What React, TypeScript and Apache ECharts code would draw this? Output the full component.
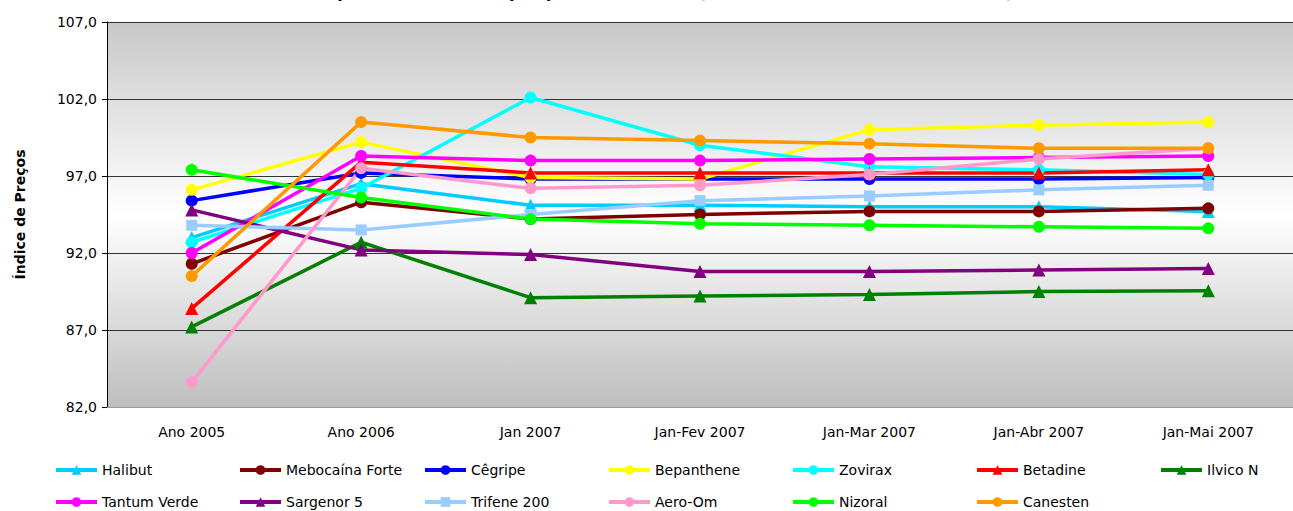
import React, { useEffect, useRef } from "react";
import * as echarts from "echarts";

const categories = ["Ano 2005", "Ano 2006", "Jan 2007", "Jan-Fev 2007", "Jan-Mar 2007", "Jan-Abr 2007", "Jan-Mai 2007"];

const halibut = [93.0, 96.5, 95.1, 95.1, 95.0, 95.0, 94.7];
const mebocaina = [91.3, 95.3, 94.2, 94.5, 94.7, 94.7, 94.9];
const cegripe = [95.4, 97.2, 96.8, 96.8, 96.8, 96.8, 96.9];
const bepanthene = [96.1, 99.2, 96.9, 96.8, 100.0, 100.3, 100.5];
const zovirax = [92.7, 96.2, 102.1, 99.0, 97.6, 97.4, 97.1];
const betadine = [88.4, 97.9, 97.2, 97.2, 97.2, 97.2, 97.4];
const ilvico = [87.2, 92.7, 89.1, 89.2, 89.3, 89.5, 89.55];
const tantum = [92.0, 98.3, 98.0, 98.0, 98.1, 98.2, 98.3];
const sargenor = [94.8, 92.2, 91.9, 90.8, 90.8, 90.9, 91.0];
const trifene = [93.8, 93.5, 94.5, 95.4, 95.7, 96.1, 96.4];
const aeroOm = [83.6, 97.5, 96.2, 96.4, 97.1, 98.1, 98.8];
const nizoral = [97.4, 95.6, 94.2, 93.9, 93.8, 93.7, 93.6];
const canesten = [90.5, 100.5, 99.5, 99.3, 99.1, 98.8, 98.8];

const yTicks = { min: 82, max: 107, interval: 5 };

const seriesDefs = [
  { name: "Halibut", data: halibut, color: "#00CCFF", symbol: "triangle" },
  { name: "Mebocaína Forte", data: mebocaina, color: "#800000", symbol: "circle" },
  { name: "Cêgripe", data: cegripe, color: "#0000FF", symbol: "circle" },
  { name: "Bepanthene", data: bepanthene, color: "#FFFF00", symbol: "circle" },
  { name: "Zovirax", data: zovirax, color: "#00FFFF", symbol: "circle" },
  { name: "Betadine", data: betadine, color: "#FF0000", symbol: "triangle" },
  { name: "Ilvico N", data: ilvico, color: "#008000", symbol: "triangle" },
  { name: "Tantum Verde", data: tantum, color: "#FF00FF", symbol: "circle" },
  { name: "Sargenor 5", data: sargenor, color: "#800080", symbol: "triangle" },
  { name: "Trifene 200", data: trifene, color: "#99CCFF", symbol: "rect" },
  { name: "Aero-Om", data: aeroOm, color: "#FF99CC", symbol: "circle" },
  { name: "Nizoral", data: nizoral, color: "#00FF00", symbol: "circle" },
  { name: "Canesten", data: canesten, color: "#FF9900", symbol: "circle" },
];

const legendRow1 = ["Halibut", "Mebocaína Forte", "Cêgripe", "Bepanthene", "Zovirax", "Betadine", "Ilvico N"];
const legendRow2 = ["Tantum Verde", "Sargenor 5", "Trifene 200", "Aero-Om", "Nizoral", "Canesten"];

const FONT = "DejaVu Sans";

export default function App() {
  const ref = useRef<HTMLDivElement>(null);
  useEffect(() => {
    if (!ref.current) return;
    const chart = echarts.init(ref.current, undefined, { renderer: "svg" });
    const legendLefts = [54, 238, 423, 607, 791, 975, 1159];
    const mkLegend = (name: string, col: number, row: number) => ({
      orient: "horizontal",
      left: legendLefts[col],
      top: row === 0 ? 463 : 495,
      itemWidth: 41,
      itemHeight: 12,
      padding: 0,
      data: [name],
      lineStyle: { width: 4 },
      textStyle: { fontFamily: FONT, fontSize: 14, color: "#000" },
    });
    const legends = [
      ...legendRow1.map((n, i) => mkLegend(n, i, 0)),
      ...legendRow2.map((n, i) => mkLegend(n, i, 1)),
    ];
    chart.setOption({
      animation: false,
      backgroundColor: "#fff",
      title: {
        text: "Evolução do Índice de Preços, por Medicamento (05/06 - Índice Base Ano 2005 = 100)",
        left: 289,
        top: -15,
        padding: 0,
        textStyle: { fontFamily: FONT, fontSize: 15, fontWeight: "bold", color: "#000" },
      },
      legend: legends,
      grid: {
        left: 107,
        top: 22,
        bottom: 104,
        right: -10,
        show: true,
        borderWidth: 0,
        backgroundColor: new echarts.graphic.LinearGradient(0, 0, 0, 1, [
          { offset: 0, color: "#c8c8c8" },
          { offset: 0.5, color: "#ffffff" },
          { offset: 1, color: "#bebebe" },
        ]),
      },
      xAxis: {
        type: "category",
        data: categories,
        boundaryGap: true,
        axisLine: { show: true, lineStyle: { color: "#999999", width: 1 } },
        axisTick: { show: false },
        axisLabel: { fontFamily: FONT, fontSize: 14, color: "#000", margin: 18 },
      },
      yAxis: {
        type: "value",
        min: yTicks.min,
        max: yTicks.max,
        interval: yTicks.interval,
        name: "Índice de Preços",
        nameLocation: "middle",
        nameGap: 80,
        nameTextStyle: { fontFamily: FONT, fontSize: 14, fontWeight: "bold", color: "#000" },
        axisLine: { show: true, lineStyle: { color: "#000", width: 1 } },
        axisTick: { show: true, length: 5, lineStyle: { color: "#000" } },
        axisLabel: {
          fontFamily: FONT,
          fontSize: 14,
          color: "#000",
          margin: 10,
          formatter: (v: number) => v.toFixed(1).replace(".", ","),
        },
        splitLine: { show: true, lineStyle: { color: "#333333", width: 1 } },
      },
      series: seriesDefs.map((s) => ({
        name: s.name,
        type: "line",
        data: s.data,
        symbol: s.symbol,
        symbolSize: s.symbol === "circle" ? 12 : s.symbol === "rect" ? 11 : 13,
        showSymbol: true,
        color: s.color,
        lineStyle: { color: s.color, width: 3.5 },
        itemStyle: { color: s.color },
        emphasis: { disabled: true },
      })),
    });
    return () => chart.dispose();
  }, []);
  return (
    <div
      ref={ref}
      style={{ position: "absolute", left: 0, top: 0, width: 1293, height: 511 }}
    />
  );
}
